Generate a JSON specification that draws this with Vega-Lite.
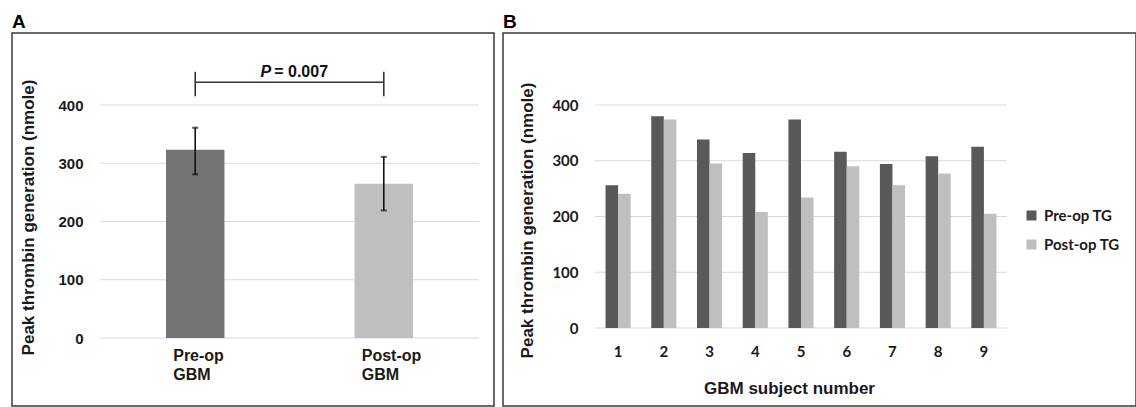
{
  "$schema": "https://vega.github.io/schema/vega-lite/v6.json",
  "padding": {"left": 11, "top": 12, "right": 0, "bottom": 0},
  "background": "white",
  "spacing": 7,
  "resolve": {"scale": {"x": "independent", "y": "independent", "color": "independent"}, "legend": {"color": "independent"}},
  "config": {
    "view": {"stroke": "#3a3a3a", "strokeWidth": 1.5},
    "font": "Liberation Sans",
    "axis": {"domain": false, "ticks": false, "grid": false, "labelColor": "#1a1a1a", "titleColor": "#1a1a1a", "labelFontWeight": "bold", "titleFontWeight": "bold", "labelFlush": false},
    "title": {"anchor": "start", "fontSize": 19, "fontWeight": "bold", "font": "Liberation Sans", "color": "#000", "baseline": "alphabetic", "offset": 1}
  },
  "datasets": {
    "grid": [{"g": 0}, {"g": 100}, {"g": 200}, {"g": 300}, {"g": 400}],
    "summary": [
      {"cat": "Pre-op GBM", "mean": 323, "lower": 281, "upper": 361},
      {"cat": "Post-op GBM", "mean": 265, "lower": 219, "upper": 311}
    ],
    "pval": [{"cat": "Pre-op GBM", "p": "P", "rest": "= 0.007"}],
    "subjects": [
      {"subject": 1, "series": "Pre-op TG", "value": 256}, {"subject": 1, "series": "Post-op TG", "value": 241},
      {"subject": 2, "series": "Pre-op TG", "value": 380}, {"subject": 2, "series": "Post-op TG", "value": 374},
      {"subject": 3, "series": "Pre-op TG", "value": 338}, {"subject": 3, "series": "Post-op TG", "value": 295},
      {"subject": 4, "series": "Pre-op TG", "value": 314}, {"subject": 4, "series": "Post-op TG", "value": 208},
      {"subject": 5, "series": "Pre-op TG", "value": 374}, {"subject": 5, "series": "Post-op TG", "value": 234},
      {"subject": 6, "series": "Pre-op TG", "value": 316}, {"subject": 6, "series": "Post-op TG", "value": 290},
      {"subject": 7, "series": "Pre-op TG", "value": 294}, {"subject": 7, "series": "Post-op TG", "value": 256},
      {"subject": 8, "series": "Pre-op TG", "value": 308}, {"subject": 8, "series": "Post-op TG", "value": 277},
      {"subject": 9, "series": "Pre-op TG", "value": 325}, {"subject": 9, "series": "Post-op TG", "value": 205}
    ]
  },
  "hconcat": [
    {
      "width": 482,
      "height": 373,
      "title": {"text": "A"},
      "resolve": {"scale": {"x": "independent"}},
      "layer": [
        {
          "data": {"name": "grid"},
          "mark": {"type": "rule", "color": "#d9d9d9", "strokeWidth": 1.2},
          "encoding": {
            "y": {"field": "g", "type": "quantitative", "scale": {"domain": [0, 400], "range": [305, 72], "nice": false}},
            "x": {"datum": 0, "type": "quantitative", "scale": {"domain": [0, 1], "range": [88, 467]}, "axis": null},
            "x2": {"datum": 1}
          }
        },
        {
          "layer": [
            {
              "data": {"name": "summary"},
              "mark": {"type": "bar"},
              "encoding": {
                "x": {"field": "cat", "type": "nominal", "scale": {"domain": ["Pre-op GBM", "Post-op GBM"], "range": [88, 467], "paddingInner": 0.69, "paddingOuter": 0.35},
                  "axis": {"offset": -68, "labelPadding": 9, "labelFontSize": 16, "labelAlign": "left", "labelOffset": -22, "labelAngle": 0, "labelExpr": "split(datum.label, ' ')", "labelLineHeight": 19, "title": null}},
                "y": {"field": "mean", "type": "quantitative", "scale": {"domain": [0, 400], "range": [305, 72], "nice": false},
                  "axis": {"offset": -76, "labelPadding": 5, "labelFontSize": 15, "values": [0, 100, 200, 300, 400], "title": "Peak thrombin generation (nmole)", "titleFontSize": 17, "titleX": -60, "titleY": 184, "titleAngle": 270, "titleAlign": "center", "titleBaseline": "middle"}},
                "color": {"field": "cat", "type": "nominal", "scale": {"domain": ["Pre-op GBM", "Post-op GBM"], "range": ["#737373", "#bfbfbf"]}, "legend": null}
              }
            },
            {
              "data": {"name": "summary"},
              "mark": {"type": "rule", "color": "#111", "strokeWidth": 1.6},
              "encoding": {
                "x": {"field": "cat", "type": "nominal", "scale": {"domain": ["Pre-op GBM", "Post-op GBM"], "range": [88, 467], "paddingInner": 0.69, "paddingOuter": 0.35}},
                "y": {"field": "lower", "type": "quantitative", "scale": {"domain": [0, 400], "range": [305, 72], "nice": false}},
                "y2": {"field": "upper"}
              }
            },
            {
              "data": {"name": "summary"},
              "mark": {"type": "tick", "color": "#111", "size": 6, "thickness": 2},
              "encoding": {
                "x": {"field": "cat", "type": "nominal", "scale": {"domain": ["Pre-op GBM", "Post-op GBM"], "range": [88, 467], "paddingInner": 0.69, "paddingOuter": 0.35}},
                "y": {"field": "lower", "type": "quantitative", "scale": {"domain": [0, 400], "range": [305, 72], "nice": false}}
              }
            },
            {
              "data": {"name": "summary"},
              "mark": {"type": "tick", "color": "#111", "size": 6, "thickness": 2},
              "encoding": {
                "x": {"field": "cat", "type": "nominal", "scale": {"domain": ["Pre-op GBM", "Post-op GBM"], "range": [88, 467], "paddingInner": 0.69, "paddingOuter": 0.35}},
                "y": {"field": "upper", "type": "quantitative", "scale": {"domain": [0, 400], "range": [305, 72], "nice": false}}
              }
            },
            {
              "data": {"name": "summary"},
              "mark": {"type": "rule", "color": "#333", "strokeWidth": 1.6},
              "encoding": {
                "x": {"field": "cat", "type": "nominal", "scale": {"domain": ["Pre-op GBM", "Post-op GBM"], "range": [88, 467], "paddingInner": 0.69, "paddingOuter": 0.35}},
                "y": {"datum": 415, "type": "quantitative", "scale": {"domain": [0, 400], "range": [305, 72], "nice": false}},
                "y2": {"datum": 457}
              }
            },
            {
              "data": {"name": "summary"},
              "mark": {"type": "line", "color": "#333", "strokeWidth": 1.6},
              "encoding": {
                "x": {"field": "cat", "type": "nominal", "scale": {"domain": ["Pre-op GBM", "Post-op GBM"], "range": [88, 467], "paddingInner": 0.69, "paddingOuter": 0.35}},
                "y": {"datum": 439, "type": "quantitative", "scale": {"domain": [0, 400], "range": [305, 72], "nice": false}}
              }
            },
            {
              "data": {"name": "pval"},
              "mark": {"type": "text", "font": "Liberation Sans", "fontSize": 16, "fontWeight": "bold", "fontStyle": "italic", "align": "right", "baseline": "alphabetic", "dx": 76, "color": "#111"},
              "encoding": {
                "x": {"field": "cat", "type": "nominal", "scale": {"domain": ["Pre-op GBM", "Post-op GBM"], "range": [88, 467], "paddingInner": 0.69, "paddingOuter": 0.35}},
                "y": {"datum": 448, "type": "quantitative", "scale": {"domain": [0, 400], "range": [305, 72], "nice": false}},
                "text": {"field": "p"}
              }
            },
            {
              "data": {"name": "pval"},
              "mark": {"type": "text", "font": "Liberation Sans", "fontSize": 16, "fontWeight": "bold", "align": "left", "baseline": "alphabetic", "dx": 79, "color": "#111"},
              "encoding": {
                "x": {"field": "cat", "type": "nominal", "scale": {"domain": ["Pre-op GBM", "Post-op GBM"], "range": [88, 467], "paddingInner": 0.69, "paddingOuter": 0.35}},
                "y": {"datum": 448, "type": "quantitative", "scale": {"domain": [0, 400], "range": [305, 72], "nice": false}},
                "text": {"field": "rest"}
              }
            }
          ]
        }
      ]
    },
    {
      "width": 633,
      "height": 373,
      "title": {"text": "B"},
      "resolve": {"scale": {"x": "independent"}},
      "layer": [
        {
          "data": {"name": "grid"},
          "mark": {"type": "rule", "color": "#d9d9d9", "strokeWidth": 1.2},
          "encoding": {
            "y": {"field": "g", "type": "quantitative", "scale": {"domain": [0, 400], "range": [295, 72], "nice": false}},
            "x": {"datum": 0, "type": "quantitative", "scale": {"domain": [0, 1], "range": [92, 504]}, "axis": null},
            "x2": {"datum": 1}
          }
        },
        {
          "data": {"name": "subjects"},
          "mark": {"type": "bar"},
          "encoding": {
            "x": {"field": "subject", "type": "ordinal", "scale": {"range": [92, 504], "paddingInner": 0.45, "paddingOuter": 0.23},
              "axis": {"offset": -78, "labelPadding": 16, "labelFont": "Lato", "labelFontSize": 15, "labelAngle": 0, "title": "GBM subject number", "titleFontSize": 17, "titleX": 286, "titleY": 60, "titleAlign": "center", "titleBaseline": "middle"}},
            "xOffset": {"field": "series", "type": "nominal", "scale": {"domain": ["Pre-op TG", "Post-op TG"]}},
            "y": {"field": "value", "type": "quantitative", "scale": {"domain": [0, 400], "range": [295, 72], "nice": false},
              "axis": {"offset": -80, "labelPadding": 5, "labelFont": "Lato", "labelFontSize": 15, "values": [0, 100, 200, 300, 400], "title": "Peak thrombin generation (nmole)", "titleFontSize": 17, "titleX": -56, "titleY": 187, "titleAngle": 270, "titleAlign": "center", "titleBaseline": "middle"}},
            "color": {"field": "series", "type": "nominal", "scale": {"domain": ["Pre-op TG", "Post-op TG"], "range": ["#595959", "#bfbfbf"]},
              "legend": {"orient": "none", "legendX": 521, "legendY": 175, "title": null, "symbolType": "square", "symbolSize": 100, "symbolStrokeWidth": 0, "labelFont": "Lato", "labelFontSize": 15, "labelFontWeight": "bold", "labelColor": "#1a1a1a", "labelOffset": 5, "rowPadding": 13, "padding": 0}}
          }
        }
      ]
    }
  ]
}
